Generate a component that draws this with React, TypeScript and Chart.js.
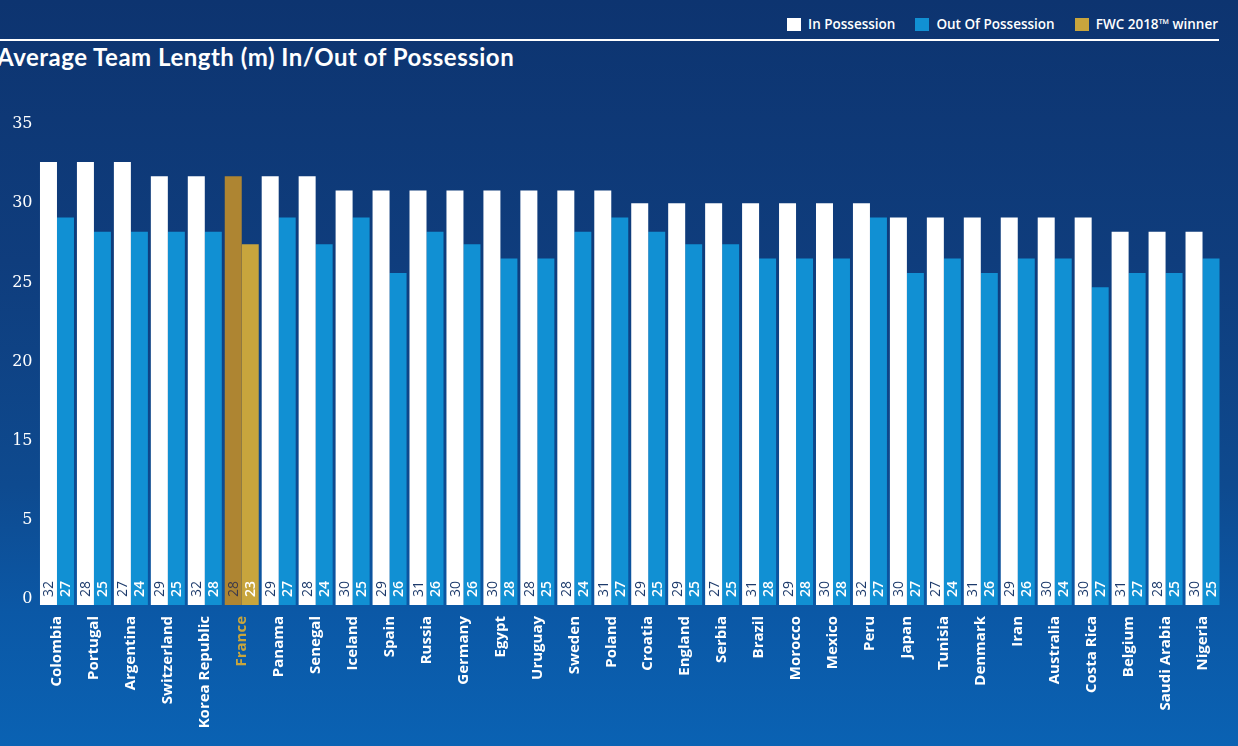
import React, { useEffect, useRef } from "react";
import { Chart, registerables } from "chart.js";

Chart.register(...registerables);

const TITLE = "Average Team Length (m) In/Out of Possession";
const LEGEND_ITEMS = ["In Possession", "Out Of Possession", "FWC 2018™ winner"];

const TEAMS = [
  "Colombia", "Portugal", "Argentina", "Switzerland", "Korea Republic", "France",
  "Panama", "Senegal", "Iceland", "Spain", "Russia", "Germany", "Egypt", "Uruguay",
  "Sweden", "Poland", "Croatia", "England", "Serbia", "Brazil", "Morocco", "Mexico",
  "Peru", "Japan", "Tunisia", "Denmark", "Iran", "Australia", "Costa Rica",
  "Belgium", "Saudi Arabia", "Nigeria",
];
const WINNER = "France";

// bar heights as drawn (read against the printed axis)
const IN_POSSESSION_BARS = [
  32.6, 32.6, 32.6, 31.7, 31.7, 31.7, 31.7, 31.7, 30.8, 30.8, 30.8, 30.8, 30.8, 30.8,
  30.8, 30.8, 30.0, 30.0, 30.0, 30.0, 30.0, 30.0, 30.0, 29.1, 29.1, 29.1, 29.1, 29.1,
  29.1, 28.2, 28.2, 28.2,
];
const OUT_POSSESSION_BARS = [
  29.1, 28.2, 28.2, 28.2, 28.2, 27.4, 29.1, 27.4, 29.1, 25.6, 28.2, 27.4, 26.5, 26.5,
  28.2, 29.1, 28.2, 27.4, 27.4, 26.5, 26.5, 26.5, 29.1, 25.6, 26.5, 25.6, 26.5, 26.5,
  24.7, 25.6, 25.6, 26.5,
];
// values printed inside the bars
const IN_POSSESSION_LABELS = [
  32, 28, 27, 29, 32, 28, 29, 28, 30, 29, 31, 30, 30, 28, 28, 31, 29, 29, 27, 31, 29, 30,
  32, 30, 27, 31, 29, 30, 30, 31, 28, 30,
];
const OUT_POSSESSION_LABELS = [
  27, 25, 24, 25, 28, 23, 27, 24, 25, 26, 26, 26, 28, 25, 24, 27, 25, 25, 25, 28, 28, 28,
  27, 27, 24, 26, 26, 24, 27, 27, 25, 25,
];

const Y_TICK_VALUES = [5, 10, 15, 20, 25, 30, 35];
const Y_TICK_LABELS = ["0", "5", "15", "20", "25", "30", "35"];

const WHITE = "#ffffff";
const BLUE = "#1190d3";
const GOLD_DARK = "#ae8532";
const GOLD = "#c8a53d";

const valueLabelPlugin = {
  id: "valueLabels",
  afterDatasetsDraw(chart: any) {
    const ctx = chart.ctx;
    const bottom = chart.chartArea.bottom;
    chart.data.datasets.forEach((_ds: any, di: number) => {
      const meta = chart.getDatasetMeta(di);
      const labels = di === 0 ? IN_POSSESSION_LABELS : OUT_POSSESSION_LABELS;
      meta.data.forEach((bar: any, i: number) => {
        ctx.save();
        ctx.translate(bar.x, bottom - 8);
        ctx.rotate(-Math.PI / 2);
        ctx.font = di === 0 ? "400 14px 'Open Sans'" : "600 14px 'Open Sans'";
        ctx.fillStyle = di === 0 ? (TEAMS[i] === WINNER ? "#3d3a4a" : "#1c3a6b") : "#ffffff";
        ctx.textAlign = "left";
        ctx.textBaseline = "middle";
        ctx.fillText(String(labels[i]), 0, 1);
        ctx.restore();
      });
    });
  },
};

export default function App() {
  const canvasRef = useRef<HTMLCanvasElement | null>(null);

  useEffect(() => {
    document.body.style.margin = "0";
    const canvas = canvasRef.current;
    if (!canvas) return;
    const chart = new Chart(canvas, {
      type: "bar",
      data: {
        labels: TEAMS,
        datasets: [
          {
            label: LEGEND_ITEMS[0],
            data: IN_POSSESSION_BARS,
            backgroundColor: TEAMS.map((t) => (t === WINNER ? GOLD_DARK : WHITE)),
            borderWidth: 0,
            barPercentage: 1,
            categoryPercentage: 0.92,
          },
          {
            label: LEGEND_ITEMS[1],
            data: OUT_POSSESSION_BARS,
            backgroundColor: TEAMS.map((t) => (t === WINNER ? GOLD : BLUE)),
            borderWidth: 0,
            barPercentage: 1,
            categoryPercentage: 0.92,
          },
        ],
      },
      options: {
        responsive: false,
        animation: false,
        devicePixelRatio: 1,
        layout: { padding: { top: 124, right: 17, left: 0, bottom: 0 } },
        plugins: {
          legend: { display: false },
          title: { display: false },
          tooltip: { enabled: false },
        },
        scales: {
          x: {
            grid: { display: false },
            border: { display: false },
            ticks: {
              autoSkip: false,
              maxRotation: 90,
              minRotation: 90,
              padding: 3,
              color: (c: any) => (TEAMS[c.index] === WINNER ? GOLD : "#ffffff"),
              font: { family: "'Open Sans'", size: 15, weight: "bold" },
            },
            afterFit: (s: any) => {
              s.height = 141;
            },
          },
          y: {
            min: 4.63,
            max: 35,
            grid: { display: false, drawTicks: false },
            border: { display: false },
            afterBuildTicks: (s: any) => {
              s.ticks = Y_TICK_VALUES.map((v) => ({ value: v }));
            },
            ticks: {
              padding: 6,
              color: "#ffffff",
              font: { family: "'DejaVu Serif'", size: 16 },
              callback: (v: any) => {
                const k = Y_TICK_VALUES.indexOf(Number(v));
                return k >= 0 ? Y_TICK_LABELS[k] : "";
              },
            },
            afterFit: (s: any) => {
              s.width = 38.5;
            },
          },
        },
      },
      plugins: [valueLabelPlugin],
    });
    return () => chart.destroy();
  }, []);

  const legendColors = [WHITE, BLUE, GOLD];

  return (
    <div
      style={{
        position: "relative",
        width: 1238,
        height: 746,
        overflow: "hidden",
        background:
          "linear-gradient(180deg, #0d3470 0%, #0f3d7d 35%, #0e4a8f 65%, #0b58a6 82%, #0a62b3 100%)",
        fontFamily: "'Open Sans', sans-serif",
      }}
    >
      <div
        style={{
          position: "absolute",
          top: 15,
          right: 20,
          display: "flex",
          alignItems: "center",
          color: "#ffffff",
          fontSize: 13.5,
          fontWeight: 600,
          whiteSpace: "nowrap",
          lineHeight: "18px",
        }}
      >
        {LEGEND_ITEMS.map((label, i) => (
          <div key={label} style={{ display: "flex", alignItems: "center", marginLeft: i === 0 ? 0 : 20 }}>
            <span style={{ display: "inline-block", width: 14, height: 13, background: legendColors[i], marginRight: 7 }} />
            <span>{label}</span>
          </div>
        ))}
      </div>
      <div style={{ position: "absolute", top: 39, left: 0, width: 1219, height: 2, background: "#ffffff" }} />
      <div
        style={{
          position: "absolute",
          top: 42,
          left: -3,
          color: "#ffffff",
          fontFamily: "Lato, sans-serif",
          fontWeight: 700,
          fontSize: 24,
          letterSpacing: 0.5,
          whiteSpace: "nowrap",
        }}
      >
        {TITLE}
      </div>
      <canvas
        ref={canvasRef}
        width={1238}
        height={746}
        style={{ position: "absolute", left: 0, top: 0, display: "block", width: 1238, height: 746 }}
      />
    </div>
  );
}
